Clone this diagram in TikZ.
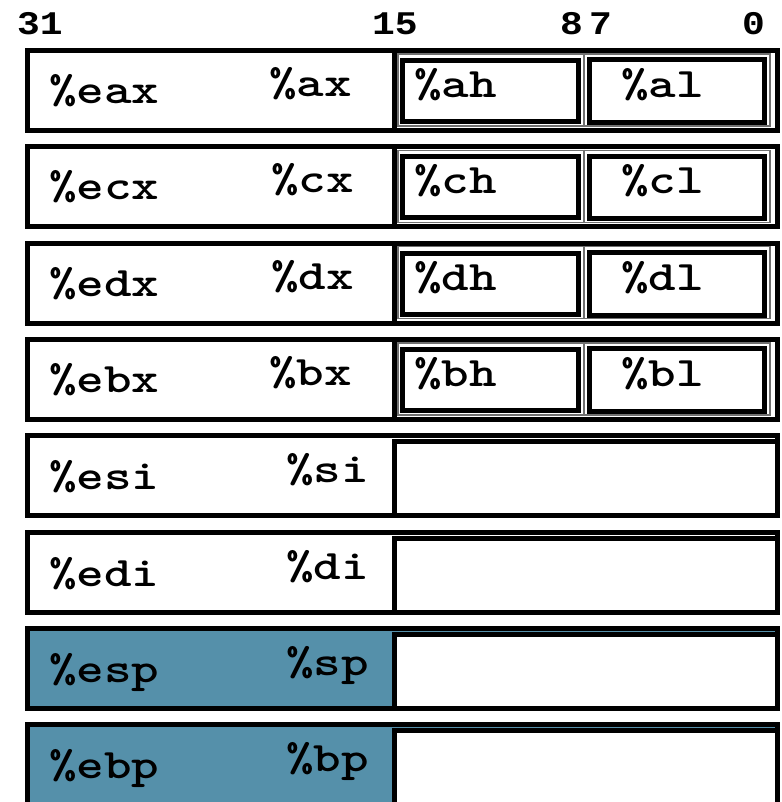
\documentclass[tikz,border=0pt]{standalone}
\usepackage{fontspec}
\usepackage{tikz}
\usepackage{xcolor}
\newfontfamily\bitfont{Liberation Mono}
\definecolor{regblue}{HTML}{5590AA}
\definecolor{thinline}{HTML}{707070}
\newcommand{\stretchtext}[1]{\scalebox{1.25}[1]{#1}}
\newcommand{\stretchnum}[1]{\scalebox{1.15}[1]{#1}}
\tikzset{
  regbox/.style={rectangle, draw=black, line width=5pt, fill=white,
    minimum width=750pt, minimum height=80pt, inner sep=0pt},
  stackbox/.style={regbox, fill=regblue},
  halfbox/.style={rectangle, draw=black, line width=5pt, fill=white,
    minimum width=383pt, minimum height=80pt, inner sep=0pt},
  lowbox/.style={halfbox, minimum height=74pt},
  wordbox/.style={rectangle, draw=thinline, line width=1.2pt,
    minimum width=372pt, minimum height=72pt, inner sep=0pt},
  bytebox/.style={rectangle, draw=black, line width=5pt, fill=white,
    minimum width=176pt, minimum height=61pt, inner sep=0pt},
  regname/.style={anchor=base west, inner sep=0pt,
    font=\fontsize{42pt}{42pt}\selectfont\ttfamily\bfseries},
  bitnum/.style={anchor=base west, inner sep=0pt,
    font=\fontsize{33pt}{33pt}\selectfont\bitfont\bfseries}
}
\begin{document}
\begin{tikzpicture}[x=1pt,y=-1pt]
  \useasboundingbox (0,0) rectangle (781,802);
  \clip (0,0) rectangle (781,802);

  % Bit positions along the top.
  \node[bitnum] (b31) at (17,35) {\stretchnum{31}};
  \node[bitnum] (b15) at (372,35) {\stretchnum{15}};
  \node[bitnum] (b8) at (560,35) {\stretchnum{8}};
  \node[bitnum] (b7) at (589,35) {\stretchnum{7}};
  \node[bitnum] (b0) at (742,35) {\stretchnum{0}};

  % %eax
  \node[regbox] (eax) at (402.5,90.5) {};
  \node[halfbox] (ax) at (586,90.5) {};
  \node[wordbox] (axw) at (584,90) {};
  \draw[draw=thinline, line width=1.2pt] (axw.north) -- (axw.south);
  \node[bytebox] (ah) at (490.5,91) {};
  \node[bytebox, minimum width=175pt, minimum height=62.5pt] (al) at (677,91.25) {};
  \node[regname] (eax-text) at (49,103.5) {\stretchtext{\%eax}};
  \node[regname] (ax-text) at (269,96.5) {\stretchtext{\%ax}};
  \node[regname] (ah-text) at (414,97.5) {\stretchtext{\%ah}};
  \node[regname] (al-text) at (621,97.5) {\stretchtext{\%al}};

  % %ecx
  \node[regbox] (ecx) at (402.5,186.8) {};
  \node[halfbox] (cx) at (586,186.8) {};
  \node[wordbox] (cxw) at (584,186.3) {};
  \draw[draw=thinline, line width=1.2pt] (cxw.north) -- (cxw.south);
  \node[bytebox] (ch) at (490.5,187.3) {};
  \node[bytebox, minimum width=175pt, minimum height=62.5pt] (cl) at (677,187.55) {};
  \node[regname] (ecx-text) at (49,199.8) {\stretchtext{\%ecx}};
  \node[regname] (cx-text) at (271,192.8) {\stretchtext{\%cx}};
  \node[regname] (ch-text) at (414,193.8) {\stretchtext{\%ch}};
  \node[regname] (cl-text) at (621,193.8) {\stretchtext{\%cl}};

  % %edx
  \node[regbox] (edx) at (402.5,283.1) {};
  \node[halfbox] (dx) at (586,283.1) {};
  \node[wordbox] (dxw) at (584,282.6) {};
  \draw[draw=thinline, line width=1.2pt] (dxw.north) -- (dxw.south);
  \node[bytebox] (dh) at (490.5,283.6) {};
  \node[bytebox, minimum width=175pt, minimum height=62.5pt] (dl) at (677,283.85) {};
  \node[regname] (edx-text) at (49,296.1) {\stretchtext{\%edx}};
  \node[regname] (dx-text) at (271,289.1) {\stretchtext{\%dx}};
  \node[regname] (dh-text) at (414,290.1) {\stretchtext{\%dh}};
  \node[regname] (dl-text) at (621,290.1) {\stretchtext{\%dl}};

  % %ebx
  \node[regbox] (ebx) at (402.5,379.4) {};
  \node[halfbox] (bx) at (586,379.4) {};
  \node[wordbox] (bxw) at (584,378.9) {};
  \draw[draw=thinline, line width=1.2pt] (bxw.north) -- (bxw.south);
  \node[bytebox] (bh) at (490.5,379.9) {};
  \node[bytebox, minimum width=175pt, minimum height=62.5pt] (bl) at (677,380.15) {};
  \node[regname] (ebx-text) at (49,392.4) {\stretchtext{\%ebx}};
  \node[regname] (bx-text) at (269,385.4) {\stretchtext{\%bx}};
  \node[regname] (bh-text) at (414,386.4) {\stretchtext{\%bh}};
  \node[regname] (bl-text) at (621,386.4) {\stretchtext{\%bl}};

  % Index registers: no byte halves.
  \node[regbox] (esi) at (402.5,475.7) {};
  \node[lowbox] (si) at (586,478.7) {};
  \node[regname] (esi-text) at (49,489.7) {\stretchtext{\%esi}};
  \node[regname] (si-text) at (286,482.7) {\stretchtext{\%si}};

  \node[regbox] (edi) at (402.5,572.0) {};
  \node[lowbox] (di) at (586,575.0) {};
  \node[regname] (edi-text) at (49,586.0) {\stretchtext{\%edi}};
  \node[regname] (di-text) at (286,579.0) {\stretchtext{\%di}};

  % Stack registers, shaded.
  \node[stackbox] (esp) at (402.5,668.3) {};
  \node[lowbox] (sp) at (586,671.3) {};
  \node[regname] (esp-text) at (49,682.3) {\stretchtext{\%esp}};
  \node[regname] (sp-text) at (286,675.3) {\stretchtext{\%sp}};

  \node[stackbox] (ebp) at (402.5,764.6) {};
  \node[lowbox] (bp) at (586,767.6) {};
  \node[regname] (ebp-text) at (49,778.6) {\stretchtext{\%ebp}};
  \node[regname] (bp-text) at (286,771.6) {\stretchtext{\%bp}};
\end{tikzpicture}
\end{document}
